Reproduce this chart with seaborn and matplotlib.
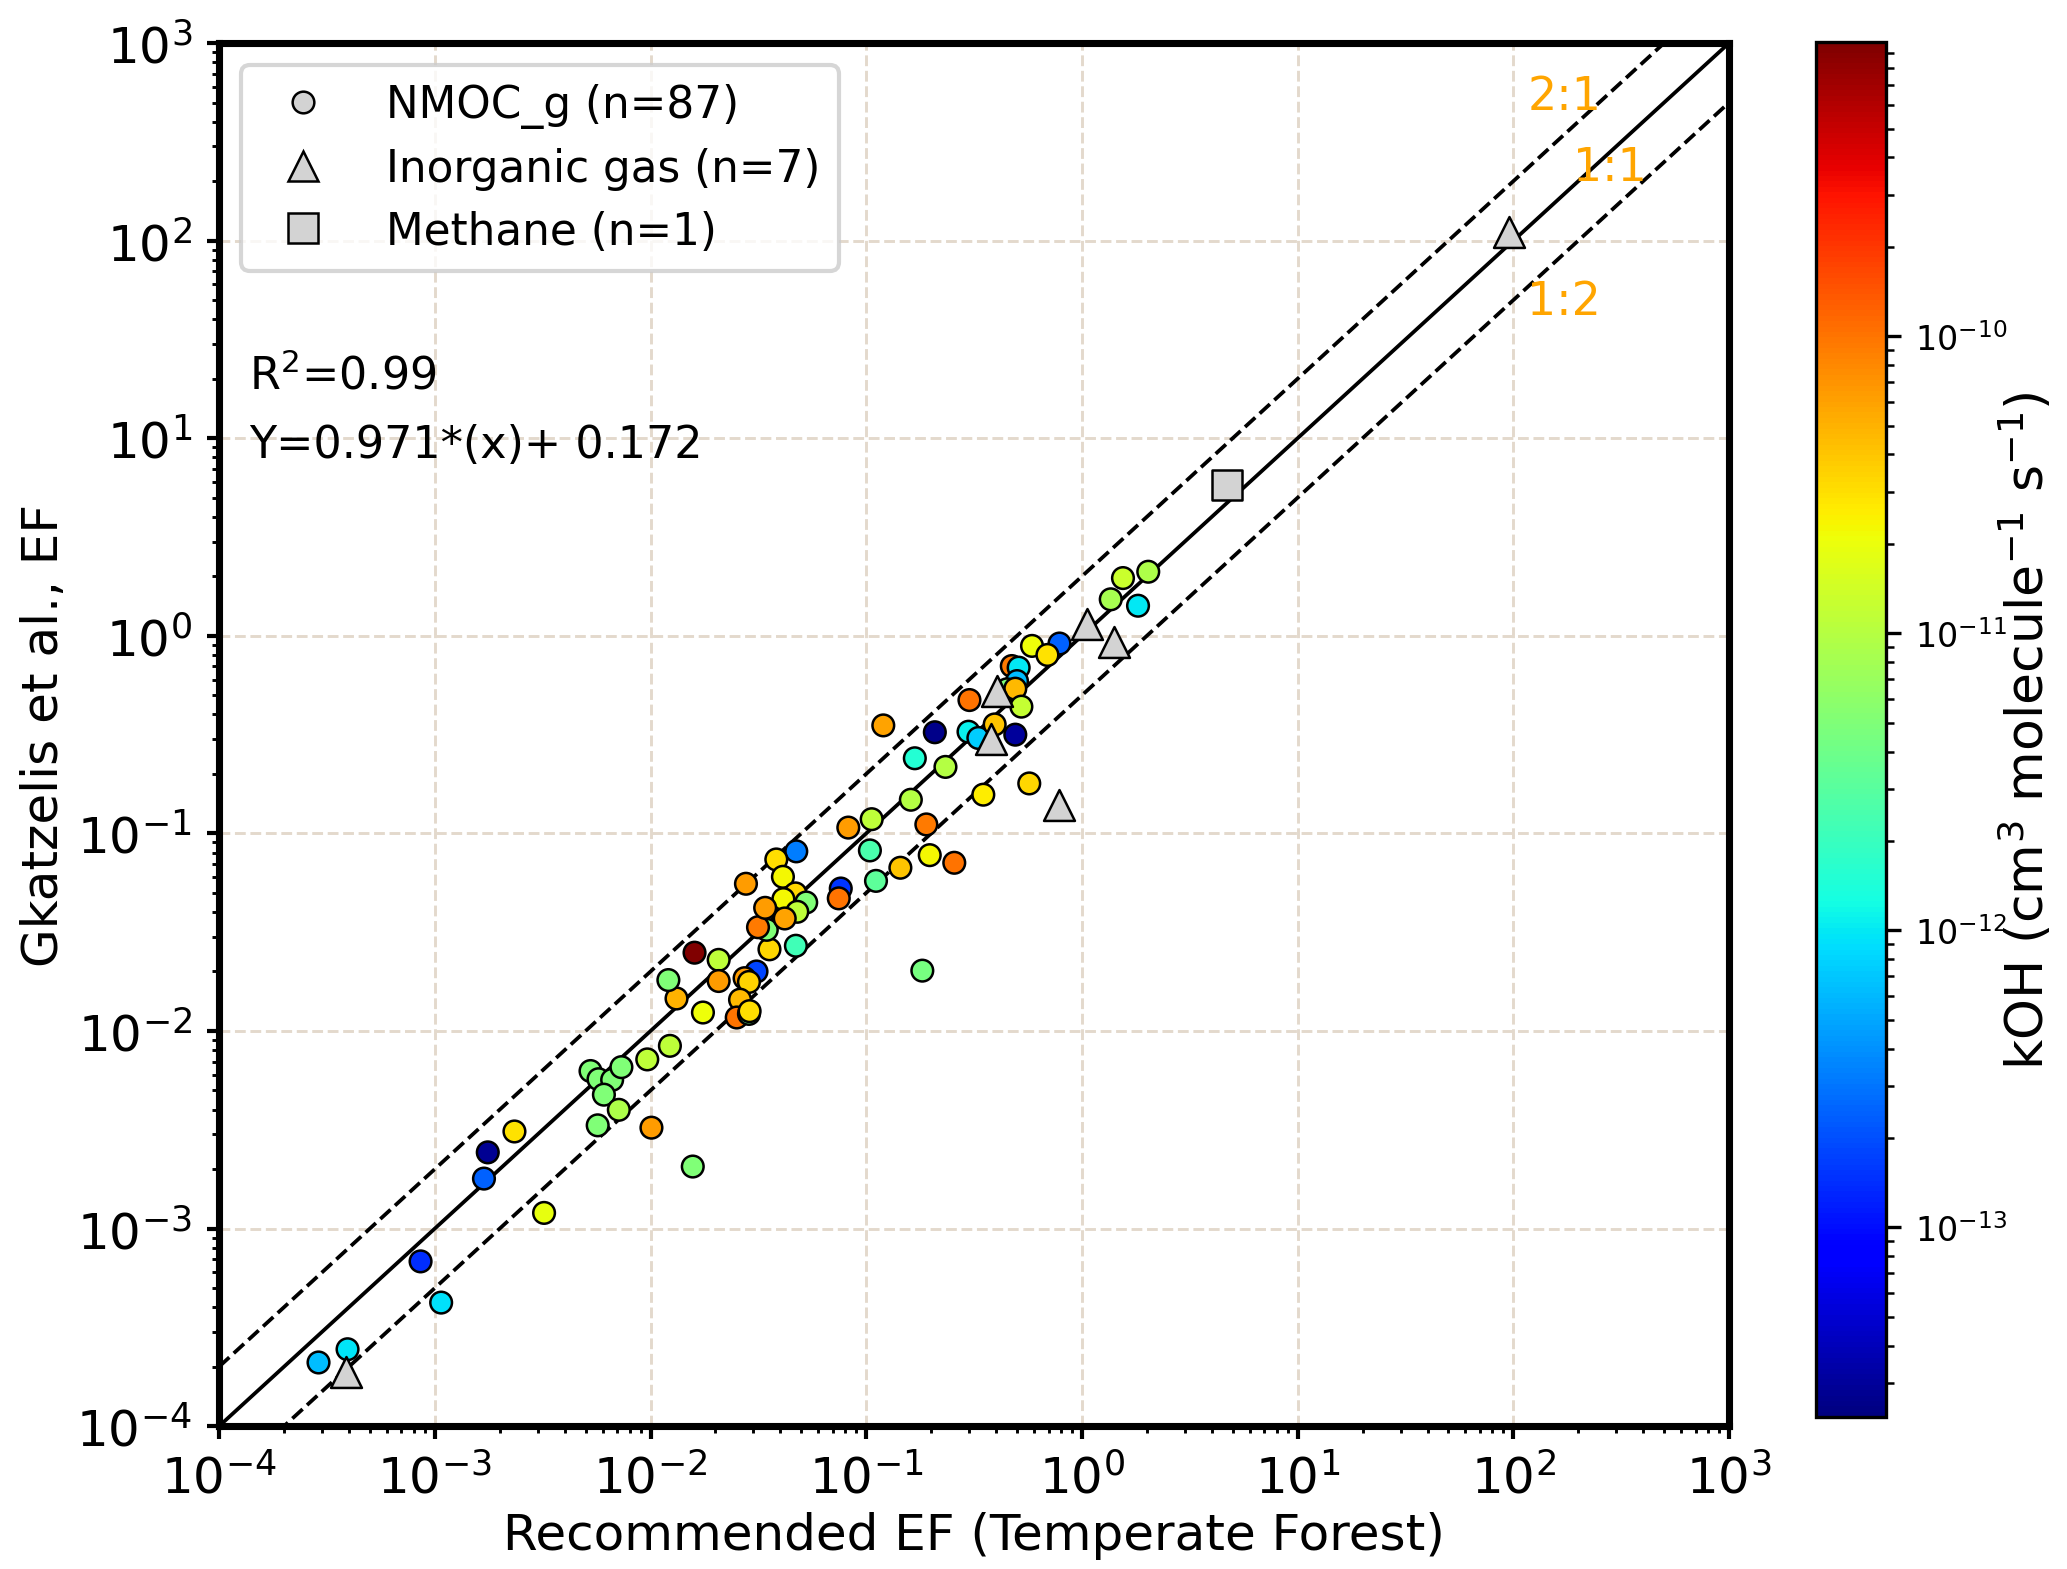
import numpy as np
import pandas as pd
import matplotlib
matplotlib.use('Agg')
import matplotlib.pyplot as plt
from matplotlib.colors import LogNorm
from matplotlib.cm import ScalarMappable
from matplotlib.lines import Line2D
import seaborn as sns

sns.set_style("ticks")
plt.rcParams['font.family'] = ['DejaVu Sans']
plt.rcParams['text.color'] = 'black'
plt.rcParams['axes.labelcolor'] = 'black'
plt.rcParams['xtick.color'] = 'black'
plt.rcParams['ytick.color'] = 'black'
plt.rcParams['axes.edgecolor'] = 'black'

# NMOC_g points: recommended EF (x), Gkatzelis EF (y), kOH
nmoc_x = [2.89e-4, 3.94e-4, 8.59e-4, 1.07e-3, 1.69e-3, 1.76e-3, 2.34e-3, 3.21e-3,
          5.27e-3, 5.74e-3, 6.64e-3, 7.33e-3, 6.08e-3, 7.13e-3, 5.69e-3, 9.66e-3,
          1.23e-2, 1.01e-2, 1.57e-2, 1.75e-2, 1.32e-2, 1.21e-2, 1.60e-2, 2.07e-2,
          2.07e-2, 3.10e-2, 2.73e-2, 2.86e-2, 2.60e-2, 2.51e-2, 2.86e-2, 2.88e-2,
          3.56e-2, 4.72e-2, 3.46e-2, 3.15e-2, 0.120, 8.26e-2, 0.106, 0.104,
          0.111, 0.144, 4.74e-2, 3.83e-2, 4.11e-2, 2.77e-2, 7.62e-2, 7.46e-2,
          4.70e-2, 4.13e-2, 5.27e-2, 4.79e-2, 3.40e-2, 4.19e-2, 2.03, 1.55,
          1.36, 1.82, 0.787, 0.587, 0.692, 0.473, 0.509, 0.500,
          0.449, 0.491, 0.301, 0.524, 0.208, 0.298, 0.331, 0.394,
          0.491, 0.168, 0.233, 0.161, 0.349, 0.570, 0.190, 0.197,
          0.256, 0.182]
nmoc_y = [2.10e-4, 2.45e-4, 6.82e-4, 4.22e-4, 1.79e-3, 2.43e-3, 3.10e-3, 1.20e-3,
          6.27e-3, 5.70e-3, 5.66e-3, 6.56e-3, 4.76e-3, 3.99e-3, 3.33e-3, 7.18e-3,
          8.41e-3, 3.24e-3, 2.06e-3, 1.24e-2, 1.46e-2, 1.81e-2, 2.49e-2, 2.29e-2,
          1.79e-2, 2.00e-2, 1.85e-2, 1.77e-2, 1.44e-2, 1.17e-2, 1.22e-2, 1.26e-2,
          2.59e-2, 2.70e-2, 3.25e-2, 3.35e-2, 0.352, 0.107, 0.118, 8.20e-2,
          5.75e-2, 6.70e-2, 8.11e-2, 7.38e-2, 6.03e-2, 5.56e-2, 5.26e-2, 4.69e-2,
          4.97e-2, 4.65e-2, 4.47e-2, 4.01e-2, 4.20e-2, 3.71e-2, 2.11, 1.96,
          1.53, 1.42, 0.914, 0.889, 0.800, 0.703, 0.690, 0.590,
          0.536, 0.540, 0.473, 0.438, 0.325, 0.327, 0.304, 0.356,
          0.316, 0.240, 0.217, 0.148, 0.157, 0.179, 0.111, 7.76e-2,
          7.10e-2, 2.02e-2]
nmoc_koh = [6.3e-13, 9.5e-13, 1.4e-13, 9.0e-13, 2.4e-13, 2.8e-14, 2.9e-11, 1.9e-11,
            5.0e-12, 5.0e-12, 5.0e-12, 5.0e-12, 5.0e-12, 8.9e-12, 5.0e-12, 1.1e-11,
            1.1e-11, 6.3e-11, 5.0e-12, 2.1e-11, 5.0e-11, 5.0e-12, 9.8e-10, 1.1e-11,
            6.5e-11, 1.8e-13, 6.5e-11, 3.5e-11, 4.5e-11, 1.0e-10, 3.5e-12, 3.0e-11,
            3.3e-11, 2.2e-12, 5.0e-12, 9.5e-11, 6.0e-11, 6.3e-11, 1.1e-11, 2.5e-12,
            3.2e-12, 4.0e-11, 3.2e-13, 3.0e-11, 2.3e-11, 6.3e-11, 1.5e-13, 1.0e-10,
            3.3e-11, 2.3e-11, 5.0e-12, 1.1e-11, 6.3e-11, 6.0e-11, 9.0e-12, 1.3e-11,
            8.5e-12, 1.0e-12, 2.4e-13, 2.1e-11, 2.9e-11, 9.5e-11, 1.0e-12, 6.3e-13,
            5.0e-12, 4.5e-11, 1.0e-10, 1.2e-11, 2.6e-14, 1.1e-12, 7.5e-13, 4.0e-11,
            3.0e-14, 1.5e-12, 1.0e-11, 1.0e-11, 2.6e-11, 3.3e-11, 9.5e-11, 2.3e-11,
            1.0e-10, 4.5e-12]

# Inorganic gas points
inorg_x = [3.88e-4, 1.06, 1.41, 0.402, 0.377, 0.787, 95.5]
inorg_y = [1.89e-4, 1.15, 0.925, 0.528, 0.301, 0.139, 110.0]

# Methane
ch4_x = [4.73]
ch4_y = [5.83]

ratios = [2.0, 1.0, 0.5]
ratio_labels = ['2:1', '1:1', '1:2']
ratio_label_x = [116, 190, 116]
ratio_label_y = [535, 235, 49]

legend_labels = ['NMOC_g (n=87)', 'Inorganic gas (n=7)', 'Methane (n=1)']

koh_min, koh_max = 2.3e-14, 9.8e-10

df_nmoc = pd.DataFrame({'x': nmoc_x, 'y': nmoc_y, 'kOH': nmoc_koh})
df_inorg = pd.DataFrame({'x': inorg_x, 'y': inorg_y})
df_ch4 = pd.DataFrame({'x': ch4_x, 'y': ch4_y})

norm = LogNorm(vmin=koh_min, vmax=koh_max)
jet = matplotlib.colormaps['jet']

fig = plt.figure(figsize=(6.89, 5.233), dpi=300)
ax = fig.add_axes([0.106, 0.091, 0.7305, 0.881])
cax = fig.add_axes([0.8784, 0.0968, 0.034, 0.876])

lims = [1e-4, 1e3]
for r in ratios:
    ax.plot(lims, [lims[0] * r, lims[1] * r], color='k',
            ls='-' if r == 1 else '--', lw=0.9, zorder=2)

sns.scatterplot(data=df_nmoc, x='x', y='y', hue='kOH', hue_norm=norm,
                palette=jet, s=27, edgecolor='k', linewidth=0.6,
                legend=False, ax=ax, zorder=3)
sns.scatterplot(data=df_inorg, x='x', y='y', marker='^', color='lightgray',
                s=55, edgecolor='k', linewidth=0.6, legend=False, ax=ax, zorder=4)
sns.scatterplot(data=df_ch4, x='x', y='y', marker='s', color='lightgray',
                s=55, edgecolor='k', linewidth=0.6, legend=False, ax=ax, zorder=4)

ax.set_xscale('log')
ax.set_yscale('log')
ax.set_xlim(lims)
ax.set_ylim(lims)
ax.grid(True, which='major', ls='--', color='#e3d9cc', lw=0.7)
ax.set_axisbelow(True)
for sp in ax.spines.values():
    sp.set_linewidth(1.7)
ax.tick_params(which='major', length=3, width=1, labelsize=12)
ax.tick_params(which='minor', length=1.6, width=0.7)
ax.set_xlabel('Recommended EF (Temperate Forest)', fontsize=12, labelpad=2)
ax.set_ylabel('Gkatzelis et al., EF', fontsize=12, labelpad=2)

for lab, lx, ly in zip(ratio_labels, ratio_label_x, ratio_label_y):
    ax.text(lx, ly, lab, color='orange', fontsize=11, va='center', ha='left')

ax.text(0.02, 0.76, 'R$^2$=0.99', transform=ax.transAxes, fontsize=10.7, va='center')
ax.text(0.02, 0.71, 'Y=0.971*(x)+ 0.172', transform=ax.transAxes, fontsize=10.7, va='center')

handles = [
    Line2D([], [], marker='o', ls='none', markerfacecolor='lightgray',
           markeredgecolor='k', markeredgewidth=0.6, markersize=5.2),
    Line2D([], [], marker='^', ls='none', markerfacecolor='lightgray',
           markeredgecolor='k', markeredgewidth=0.6, markersize=7.4),
    Line2D([], [], marker='s', ls='none', markerfacecolor='lightgray',
           markeredgecolor='k', markeredgewidth=0.6, markersize=7.4),
]
ax.legend(handles, legend_labels, loc='upper left', fontsize=10.5,
          labelspacing=0.44, handletextpad=0.9, borderpad=0.42)

cb = fig.colorbar(ScalarMappable(norm=norm, cmap=jet), cax=cax)
cb.ax.tick_params(labelsize=8)
cb.set_label('kOH (cm$^3$ molecule$^{-1}$ s$^{-1}$)', fontsize=12.5, labelpad=-2.5)

fig.savefig('out.png', dpi=300)
